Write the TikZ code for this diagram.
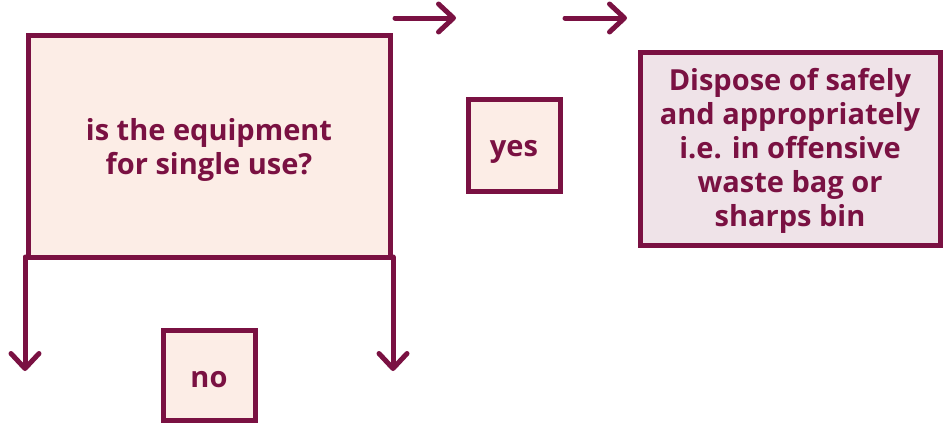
\documentclass[tikz,border=0pt]{standalone}
\usepackage{fontspec}
\setmainfont{Open Sans}
\usetikzlibrary{arrows.meta}
\definecolor{maroon}{HTML}{7A1142}
\definecolor{peach}{HTML}{FCEDE6}
\definecolor{mauve}{HTML}{EFE3E8}
\tikzset{
  box/.style={draw=maroon, line width=5pt, fill=peach, inner sep=0pt},
  txt/.style={text=maroon, font=\bfseries\fontsize{29}{34}\selectfont, align=center, inner sep=0pt},
  conn/.style={draw=maroon, line width=5pt, line cap=round, -{Straight Barb[length=15pt,width=28pt,line width=5pt,round]}},
}
\begin{document}
\begin{tikzpicture}[x=1pt,y=-1pt]
\useasboundingbox (0,0) rectangle (947,423);
\node[box, minimum width=362pt, minimum height=222pt] (q) at (209,146) {};
\node[txt] (qt) at ([yshift=-4pt]q.center) {is the equipment\\for single use?};
\node[box, minimum width=92pt, minimum height=92pt] (yes) at (514,145) {};
\node[txt] (yest) at ([yshift=-7pt]yes.center) {yes};
\node[box, minimum width=92pt, minimum height=90pt] (no) at (209,375) {};
\node[txt] (not) at ([yshift=-5pt]no.center) {no};
\node[box, fill=mauve, minimum width=300pt, minimum height=193pt] (disp) at (790,148.5) {};
\node[txt] (dispt) at ([yshift=-2pt]disp.center) {Dispose of safely\\and appropriately\\i.e. in offensive\\waste bag or\\sharps bin};
\coordinate (bl) at (25,257);
\coordinate (br) at (393,257);
\coordinate (dl) at (25,371);
\coordinate (dr) at (393,371);
\draw[draw=maroon, line width=5pt] (bl) -- (br);
\draw[conn] (bl) -- (dl);
\draw[conn] (br) -- (dr);
\coordinate (t1s) at (395,18);
\coordinate (t1e) at (456,18);
\coordinate (t2s) at (565,18);
\coordinate (t2e) at (627,18);
\draw[conn] (t1s) -- (t1e);
\draw[conn] (t2s) -- (t2e);
\end{tikzpicture}
\end{document}
